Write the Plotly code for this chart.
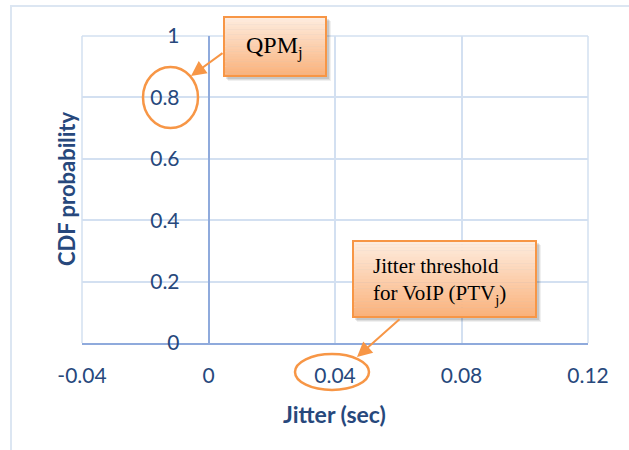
import plotly.graph_objects as go

# ---- data (the reference chart has no plotted series; only axes) ----
x_ticks = [-0.04, 0, 0.04, 0.08, 0.12]
x_tick_labels = ["-0.04", "0", "0.04", "0.08", "0.12"]
y_ticks = [0, 0.2, 0.4, 0.6, 0.8, 1]
y_tick_labels = ["0", "0.2", "0.4", "0.6", "0.8", "1"]
series_x = []
series_y = []
x_title = "Jitter (sec)"
y_title = "CDF probability"
callout_1 = "QPM<sub>j</sub>"
callout_2 = "Jitter threshold<br>for VoIP (PTV<sub>j</sub>)"

W_FIG, H_FIG = 629, 450
L, R, T, B = 82, 588, 36, 343
PW, PH = R - L, B - T


def px(x):
    return (x - L) / PW


def py(y):
    return (B - y) / PH


TICK_COLOR = "#27487C"
GRID = "#D3E0F1"
AXIS = "#8FAADC"
ORANGE = "#F79646"

fig = go.Figure()
fig.add_trace(go.Scatter(x=series_x, y=series_y, mode="lines", showlegend=False))

shapes = []
annotations = []

# outer chart border
shapes.append(dict(type="rect", xref="paper", yref="paper",
                   x0=px(11), x1=px(660), y0=py(6), y1=py(480),
                   line=dict(color="#DCE6F2", width=2), fillcolor="rgba(0,0,0,0)",
                   layer="below"))


def grad_box(x0, y0, x1, y1, top=(254, 236, 222), bot=(250, 178, 124), n=24):
    # soft shadow
    for off, a in ((5, 0.06), (4, 0.08), (3, 0.10)):
        shapes.append(dict(type="rect", xref="paper", yref="paper",
                           x0=px(x0 + off - 1), x1=px(x1 + off), y0=py(y1 + off), y1=py(y0 + off - 1),
                           line=dict(width=0), fillcolor="rgba(0,0,0,%.2f)" % a))
    h = (y1 - y0) / n
    for i in range(n):
        t = i / (n - 1)
        c = tuple(int(round(top[k] + (bot[k] - top[k]) * t)) for k in range(3))
        shapes.append(dict(type="rect", xref="paper", yref="paper",
                           x0=px(x0), x1=px(x1), y0=py(y0 + (i + 1) * h + 0.3), y1=py(y0 + i * h),
                           line=dict(width=0), fillcolor="rgb(%d,%d,%d)" % c))
    shapes.append(dict(type="rect", xref="paper", yref="paper",
                       x0=px(x0), x1=px(x1), y0=py(y1), y1=py(y0),
                       line=dict(color=ORANGE, width=2), fillcolor="rgba(0,0,0,0)"))


grad_box(224, 17, 326, 76)
grad_box(353, 241, 536, 317)

# ellipses
shapes.append(dict(type="circle", xref="paper", yref="paper",
                   x0=px(143), x1=px(198), y0=py(128), y1=py(67),
                   line=dict(color=ORANGE, width=2.5)))
shapes.append(dict(type="circle", xref="paper", yref="paper",
                   x0=px(295), x1=px(369), y0=py(390), y1=py(354),
                   line=dict(color=ORANGE, width=2.5)))

annotations.append(dict(xref="paper", yref="paper", x=px(274), y=py(47),
                        xanchor="center", yanchor="middle",
                        text=callout_1, showarrow=False,
                        font=dict(family="Liberation Serif", size=24, color="black")))
annotations.append(dict(xref="paper", yref="paper", x=px(371), y=py(281),
                        xanchor="left", yanchor="middle", align="left", text=callout_2,
                        showarrow=False,
                        font=dict(family="Liberation Serif", size=21, color="black")))

# arrows
annotations.append(dict(xref="paper", yref="paper", x=px(191), y=py(76), text="",
                        showarrow=True, ax=224 - 191, ay=52 - 76, arrowhead=2,
                        arrowsize=1.5, arrowwidth=2, arrowcolor=ORANGE, standoff=0))
annotations.append(dict(xref="paper", yref="paper", x=px(357), y=py(357), text="",
                        showarrow=True, ax=401 - 357, ay=318 - 357, arrowhead=2,
                        arrowsize=1.5, arrowwidth=2, arrowcolor=ORANGE, standoff=0))

# axis titles
annotations.append(dict(xref="paper", yref="paper", x=px(334), y=py(414),
                        xanchor="center", yanchor="middle",
                        text="<b>%s</b>" % x_title, showarrow=False,
                        font=dict(family="Lato", size=23, color=TICK_COLOR)))
annotations.append(dict(xref="paper", yref="paper", x=px(66), y=py(189),
                        xanchor="center", yanchor="middle",
                        text="<b>%s</b>" % y_title, textangle=-90, showarrow=False,
                        font=dict(family="Lato", size=22, color=TICK_COLOR)))

fig.update_layout(
    width=W_FIG, height=H_FIG,
    margin=dict(l=L, r=W_FIG - R, t=T, b=H_FIG - B),
    paper_bgcolor="white", plot_bgcolor="white",
    showlegend=False,
    xaxis=dict(range=[x_ticks[0], x_ticks[-1]], tickvals=x_ticks, ticktext=x_tick_labels,
               showgrid=True, gridcolor=GRID, gridwidth=1.5, zeroline=False,
               showline=True, linecolor=AXIS, linewidth=2, ticks="",
               ticklabelstandoff=13,
               tickfont=dict(family="Lato", size=21, color=TICK_COLOR)),
    yaxis=dict(range=[y_ticks[0], y_ticks[-1]], tickvals=y_ticks, ticktext=y_tick_labels,
               showgrid=True, gridcolor=GRID, gridwidth=1.5, zeroline=False,
               anchor="free", position=(0 - x_ticks[0]) / (x_ticks[-1] - x_ticks[0]),
               showline=True, linecolor=AXIS, linewidth=1.5, ticks="",
               ticklabelstandoff=24,
               tickfont=dict(family="Lato", size=21, color=TICK_COLOR)),
    shapes=shapes,
    annotations=annotations,
)

# left / right / top edges of plot area as light lines (grid at range ends)
fig.add_shape(type="line", xref="paper", yref="paper", x0=0, x1=0, y0=0, y1=1,
              line=dict(color=GRID, width=1.5), layer="below")
fig.add_shape(type="line", xref="paper", yref="paper", x0=1, x1=1, y0=0, y1=1,
              line=dict(color=GRID, width=1.5), layer="below")
fig.add_shape(type="line", xref="paper", yref="paper", x0=0, x1=1, y0=1, y1=1,
              line=dict(color=GRID, width=1.5), layer="below")

fig.write_html("out.html", config={"displayModeBar": False},
               post_script="document.body.style.margin='0px';")
